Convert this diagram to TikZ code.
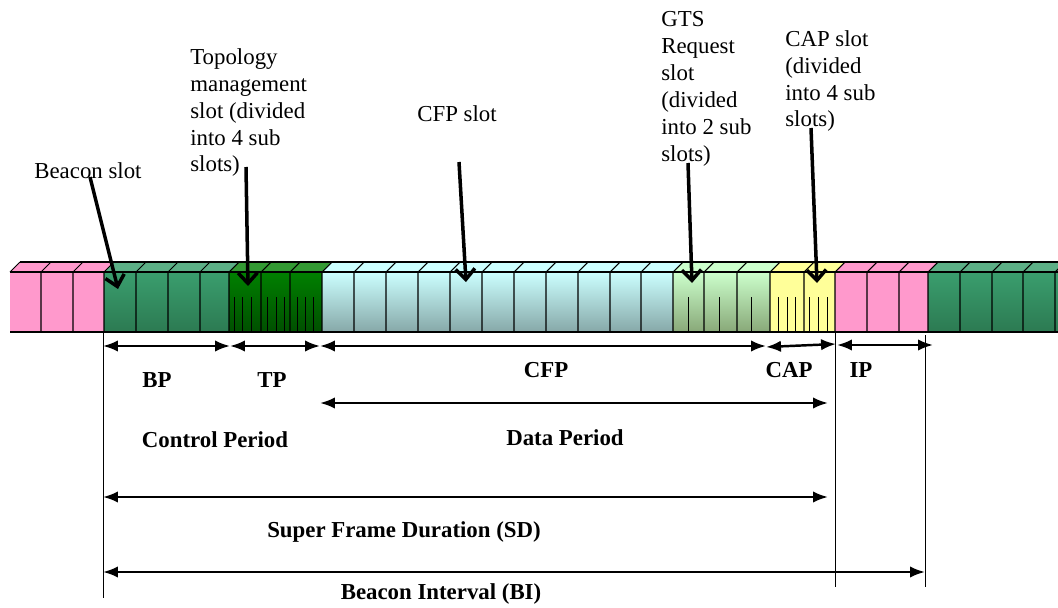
\documentclass[tikz,border=0pt]{standalone}
\usepackage{fontspec}
\setmainfont{Liberation Serif}
\usetikzlibrary{arrows.meta}

\definecolor{slotpink}{HTML}{FF99CC}
\definecolor{bcntop}{HTML}{5CAF86}
\definecolor{bcnhi}{HTML}{3A9E6E}
\definecolor{bcnlo}{HTML}{2C7A52}
\definecolor{tptop}{HTML}{339933}
\definecolor{tphi}{HTML}{008000}
\definecolor{tplo}{HTML}{004F00}
\definecolor{cfphi}{HTML}{CCFFFF}
\definecolor{cfplo}{HTML}{86A8A8}
\definecolor{gtshi}{HTML}{CCFFCC}
\definecolor{gtslo}{HTML}{88A878}
\definecolor{capyellow}{HTML}{FFFF99}

\begin{document}
\begin{tikzpicture}[x=0.02cm, y=-0.02cm,
  slotedge/.style = {black, line width=0.6pt},
  subtick/.style = {black, line width=0.5pt},
  slotarrow/.style = {black, line width=2pt, -{Straight Barb[length=6pt, width=11pt]}},
  dimarrow/.style = {black, line width=1.4pt, {Latex[length=8.5pt, width=6.5pt]}-{Latex[length=8.5pt, width=6.5pt]}},
  guide/.style = {black, line width=0.5pt},
  lbl/.style = {inner sep=0pt, align=left, font=\fontsize{13}{15.3}\selectfont},
  dimlbl/.style = {inner sep=0pt, font=\fontsize{13}{15.3}\selectfont\bfseries}]
\useasboundingbox (0,0) rectangle (1058,608);

% top faces of the slot row
\fill[slotpink] (20,262) -- (114,262) -- (104,272) -- (10,272) -- cycle;
\fill[bcntop] (114,262) -- (239,262) -- (229,272) -- (104,272) -- cycle;
\fill[tptop] (239,262) -- (332,262) -- (322,272) -- (229,272) -- cycle;
\fill[cfphi] (332,262) -- (683,262) -- (673,272) -- (322,272) -- cycle;
\fill[gtshi] (683,262) -- (780,262) -- (770,272) -- (673,272) -- cycle;
\fill[capyellow] (780,262) -- (845,262) -- (835,272) -- (770,272) -- cycle;
\fill[slotpink] (845,262) -- (938,262) -- (928,272) -- (835,272) -- cycle;
\fill[bcntop] (938,262) -- (1058,262) -- (1058,272) -- (928,272) -- cycle;

% front faces
\fill[slotpink] (10,272) rectangle (104,332);
\shade[top color=bcnhi, bottom color=bcnlo] (104,272) rectangle (229,332);
\shade[top color=tphi, bottom color=tplo] (229,272) rectangle (322,332);
\shade[top color=cfphi, bottom color=cfplo] (322,272) rectangle (673,332);
\shade[top color=gtshi, bottom color=gtslo] (673,272) rectangle (770,332);
\fill[capyellow] (770,272) rectangle (835,332);
\fill[slotpink] (835,272) rectangle (928,332);
\shade[top color=bcnhi, bottom color=bcnlo] (928,272) rectangle (1058,332);

% slot edges
\draw[slotedge] (20,262) -- (1058,262) (10,272) -- (1058,272) (10,332) -- (1058,332);
\draw[slotedge] (10,272) -- (20,262);
\foreach \sx in {41,73,104,136,168,200,229,261,290,322,354,386,418,450,482,514,546,578,610,641,673,704,737,770,804,835,867,899,928,960,992,1023,1055}
  \draw[slotedge] (\sx,332) -- (\sx,272) -- (\sx+10,262);

% sub slots
\foreach \sx in {234,242,251,267,276,284,297,305,313,688,719,751,778,787,795,809,818,827}
  \draw[subtick] (\sx,297) -- (\sx,332);

% slot labels (base = last line)
\node[lbl, anchor=base west] (beaconlbl) at (34,178) {Beacon slot};
\node[lbl, anchor=base west] (topolbl) at (190,172) {Topology\\management\\slot (divided\\into 4 sub\\slots)};
\node[lbl, anchor=base west] (cfplbl) at (417,122) {CFP slot};
\node[lbl, anchor=base west] (gtslbl) at (661,161) {GTS\\Request\\slot\\(divided\\into 2 sub\\slots)};
\node[lbl, anchor=base west] (caplbl) at (785,127) {CAP slot\\(divided\\into 4 sub\\slots)};

\coordinate (beacontail) at (90,177);
\coordinate (beaconhead) at (118,289);
\coordinate (topotail) at (246,167);
\coordinate (topohead) at (248,286);
\coordinate (cfptail) at (459,162);
\coordinate (cfphead) at (466,282);
\coordinate (gtstail) at (688,163);
\coordinate (gtshead) at (692,283);
\coordinate (captail) at (811,128);
\coordinate (caphead) at (817,283);
\draw[slotarrow] (beacontail) -- (beaconhead);
\draw[slotarrow] (topotail) -- (topohead);
\draw[slotarrow] (cfptail) -- (cfphead);
\draw[slotarrow] (gtstail) -- (gtshead);
\draw[slotarrow] (captail) -- (caphead);

% guide lines
\coordinate (sfstart) at (103,332);
\coordinate (sfend) at (835,332);
\coordinate (bistart) at (925,335);
\draw[guide] (sfstart) -- (103,598);
\draw[guide] (sfend) -- (835,587);
\draw[guide] (bistart) -- (925,587);

% periods
\coordinate (bpL) at (103,346);
\coordinate (bpR) at (230,346);
\coordinate (tpR) at (320,346);
\coordinate (cfpR) at (766,346);
\coordinate (capL) at (766,347);
\coordinate (capR) at (836,344);
\coordinate (ipL) at (837,345);
\coordinate (ipR) at (933,345);
\draw[dimarrow] (bpL) -- (bpR);
\draw[dimarrow] (bpR) -- (tpR);
\draw[dimarrow] (tpR) -- (cfpR);
\draw[dimarrow] (capL) -- (capR);
\draw[dimarrow] (ipL) -- (ipR);

\coordinate (dataL) at (320,403);
\coordinate (dataR) at (828,403);
\coordinate (sdL) at (103,497);
\coordinate (sdR) at (828,497);
\coordinate (biL) at (103,572);
\coordinate (biR) at (925,572);
\draw[dimarrow] (dataL) -- (dataR);
\draw[dimarrow] (sdL) -- (sdR);
\draw[dimarrow] (biL) -- (biR);

\node[dimlbl, anchor=base] (bp) at (157,387) {BP};
\node[dimlbl, anchor=base] (tp) at (272,387) {TP};
\node[dimlbl, anchor=base] (cfp) at (546,377) {CFP};
\node[dimlbl, anchor=base] (cap) at (789,377) {CAP};
\node[dimlbl, anchor=base] (ip) at (861,377) {IP};
\node[dimlbl, anchor=base] (ctrl) at (215,447) {Control Period};
\node[dimlbl, anchor=base] (data) at (565,445) {Data Period};
\node[dimlbl, anchor=base] (sd) at (404,537) {Super Frame Duration (SD)};
\node[dimlbl, anchor=base] (bi) at (441,599) {Beacon Interval (BI)};
\end{tikzpicture}
\end{document}
